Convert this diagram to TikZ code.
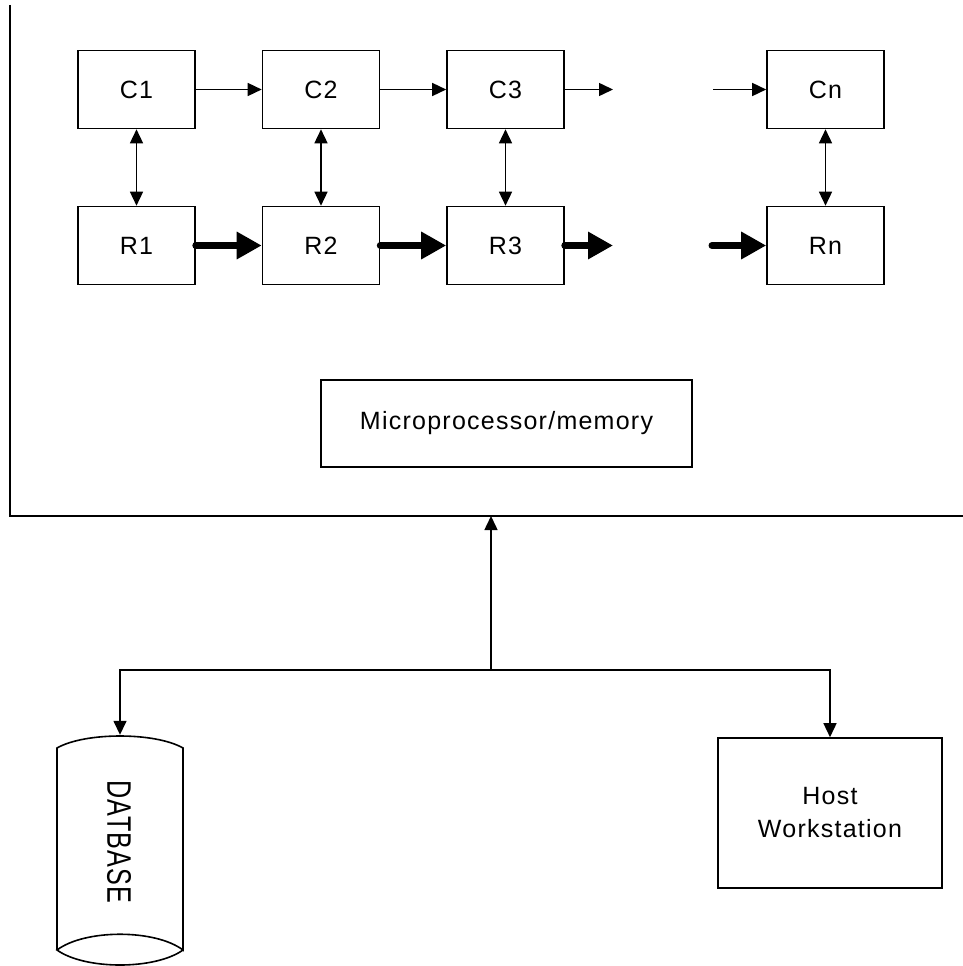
\documentclass[tikz,border=0pt]{standalone}
\usepackage{fontspec}
\setmainfont{Liberation Sans}[LetterSpace=5]
\usetikzlibrary{arrows.meta}
\begin{document}
\begin{tikzpicture}[x=1pt,y=-1pt,
  box/.style={draw,line width=1.6pt,minimum width=117pt,minimum height=78pt,inner sep=0pt,
    font=\fontsize{25}{30}\selectfont},
  thin/.style={line width=1.5pt,-{Triangle[length=14pt,width=13pt]}},
  dbl/.style={line width=1.5pt,{Triangle[length=14pt,width=13pt]}-{Triangle[length=14pt,width=13pt]}},
  thick/.style={line width=7pt,line cap=round,-{Triangle[length=25pt,width=26pt]}},
  frame/.style={line width=1.6pt}]
\useasboundingbox (0,0) rectangle (963,966);
% frame
\coordinate (ftop) at (10,5);
\coordinate (fcorner) at (10,516);
\coordinate (fright) at (963,516);
\coordinate (fb) at (491,516);
\draw[frame] (ftop) -- (fcorner) -- (fright);
% boxes
\node[box] (C1) at (136.5,89.5) {C1};
\node[box] (C2) at (321,89.5) {C2};
\node[box] (C3) at (505.5,89.5) {C3};
\node[box] (Cn) at (825.5,89.5) {Cn};
\node[box] (R1) at (136.5,245.5) {R1};
\node[box] (R2) at (321,245.5) {R2};
\node[box] (R3) at (505.5,245.5) {R3};
\node[box] (Rn) at (825.5,245.5) {Rn};
\coordinate (c3e) at (613,89.5);
\coordinate (cnw) at (713,89.5);
\coordinate (r3e) at (613,245.5);
\coordinate (rnw) at (712,245.5);
% C row arrows
\draw[thin] (C1) -- (C2);
\draw[thin] (C2) -- (C3);
\draw[thin] (C3) -- (c3e);
\draw[thin] (cnw) -- (Cn);
% R row arrows
\draw[thick] (R1.east) -- (R2.west);
\draw[thick] (R2.east) -- (R3.west);
\draw[thick] (R3.east) -- (r3e);
\draw[thick] (rnw) -- (Rn.west);
% vertical
\draw[dbl] (C1) -- (R1);
\draw[dbl] (C2) -- (R2);
\draw[dbl] (C3) -- (R3);
\draw[dbl] (Cn) -- (Rn);
% microprocessor
\node[box,minimum width=371pt,minimum height=87pt] (mp) at (506.5,423.5) {Microprocessor/memory};
% host
\node[box,minimum width=224pt,minimum height=150pt,align=center,
  font=\fontsize{25}{33}\selectfont] (host) at (830,813) {Host\\Workstation};
% database
\node[minimum width=126pt,minimum height=231pt,inner sep=0pt] (db) at (120,850.5) {};
\draw[line width=1.6pt] (57,950) -- (57,748) .. controls (85,732) and (155,732) .. (183,748)
  -- (183,950) .. controls (155,929) and (85,929) .. (57,950)
  .. controls (85,970) and (155,970) .. (183,950);
\node[rotate=-90,inner sep=0pt,font=\fontsize{34}{34}\selectfont] (dbt) at (119,842)
  {\scalebox{0.74}[1]{DATBASE}};
% connections
\coordinate (j) at (491,670);
\draw[thin] (j) -- (fb);
\draw[thin] (j) -| (db.north);
\draw[thin] (j) -| (host.north);
\end{tikzpicture}
\end{document}
